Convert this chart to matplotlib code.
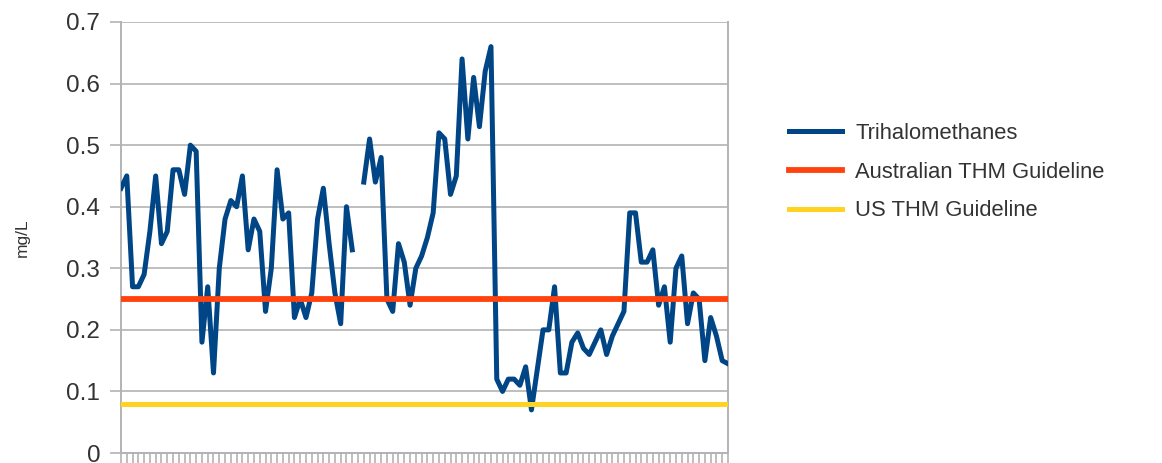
import numpy as np
import matplotlib
matplotlib.use("Agg")
import matplotlib.pyplot as plt

plt.rcParams['font.family'] = ['Liberation Sans', 'DejaVu Sans']

# THM readings (mg/L), one per sample; nan = missing sample
thm = [0.43, 0.45, 0.27, 0.27, 0.29, 0.36, 0.45, 0.34, 0.36, 0.46,
       0.46, 0.42, 0.50, 0.49, 0.18, 0.27, 0.13, 0.30, 0.38, 0.41,
       0.40, 0.45, 0.33, 0.38, 0.36, 0.23, 0.30, 0.46, 0.38, 0.39,
       0.22, 0.25, 0.22, 0.26, 0.38, 0.43, 0.34, 0.26, 0.21, 0.40,
       0.33, np.nan, 0.44, 0.51, 0.44, 0.48, 0.25, 0.23, 0.34, 0.31,
       0.24, 0.30, 0.32, 0.35, 0.39, 0.52, 0.51, 0.42, 0.45, 0.64,
       0.51, 0.61, 0.53, 0.62, 0.66, 0.12, 0.10, 0.12, 0.12, 0.11,
       0.14, 0.07, 0.135, 0.20, 0.20, 0.27, 0.13, 0.13, 0.18, 0.195,
       0.17, 0.16, 0.18, 0.20, 0.16, 0.19, 0.21, 0.23, 0.39, 0.39,
       0.31, 0.31, 0.33, 0.24, 0.27, 0.18, 0.30, 0.32, 0.21, 0.26,
       0.25, 0.15, 0.22, 0.19, 0.15, 0.145]
aus_guideline = 0.25
us_guideline = 0.08
yticks = [0, 0.1, 0.2, 0.3, 0.4, 0.5, 0.6, 0.7]
ytick_labels = ["0", "0.1", "0.2", "0.3", "0.4", "0.5", "0.6", "0.7"]

GRID = '#b3b3b3'
FS = 17.5

x = np.arange(len(thm))

fig = plt.figure(figsize=(11.62, 4.63), dpi=100)
ax = fig.add_axes([121/1162, 1-453/463, (728-121)/1162, (453-22)/463])

ax.plot(x, thm, color='#004586', linewidth=3.6, label='Trihalomethanes', zorder=3)
ax.plot(x, np.full(len(x), aus_guideline), color='#ff420e', linewidth=4.2,
        label='Australian THM Guideline', zorder=4)
ax.plot(x, np.full(len(x), us_guideline), color='#ffd320', linewidth=3.6,
        label='US THM Guideline', zorder=4)

ax.set_xlim(0, len(thm) - 1)
ax.set_ylim(0, 0.7)
ax.set_yticks(yticks)
ax.set_yticklabels(ytick_labels, fontsize=FS, color='#333333')
ax.set_xticks(x)
ax.set_xticklabels([])
ax.tick_params(axis='x', direction='out', length=7, width=1.2, color=GRID)
ax.tick_params(axis='y', direction='out', length=8, width=1.2, color=GRID, pad=7)
ax.yaxis.grid(True, color=GRID, linewidth=1.2)
ax.set_axisbelow(True)
for s in ax.spines.values():
    s.set_color(GRID)
    s.set_linewidth(1.4)
ax.spines['top'].set_visible(False)

ax.set_ylabel('mg/L', fontsize=12.5, color='#333333', labelpad=26)

ax.legend(loc='center left', bbox_to_anchor=(769/1162, 1-172/463),
          bbox_transform=fig.transFigure, frameon=False, fontsize=15.8,
          handlelength=2.42, handletextpad=0.62, labelspacing=0.82,
          labelcolor='#333333')

fig.savefig('out.png', dpi=100)
